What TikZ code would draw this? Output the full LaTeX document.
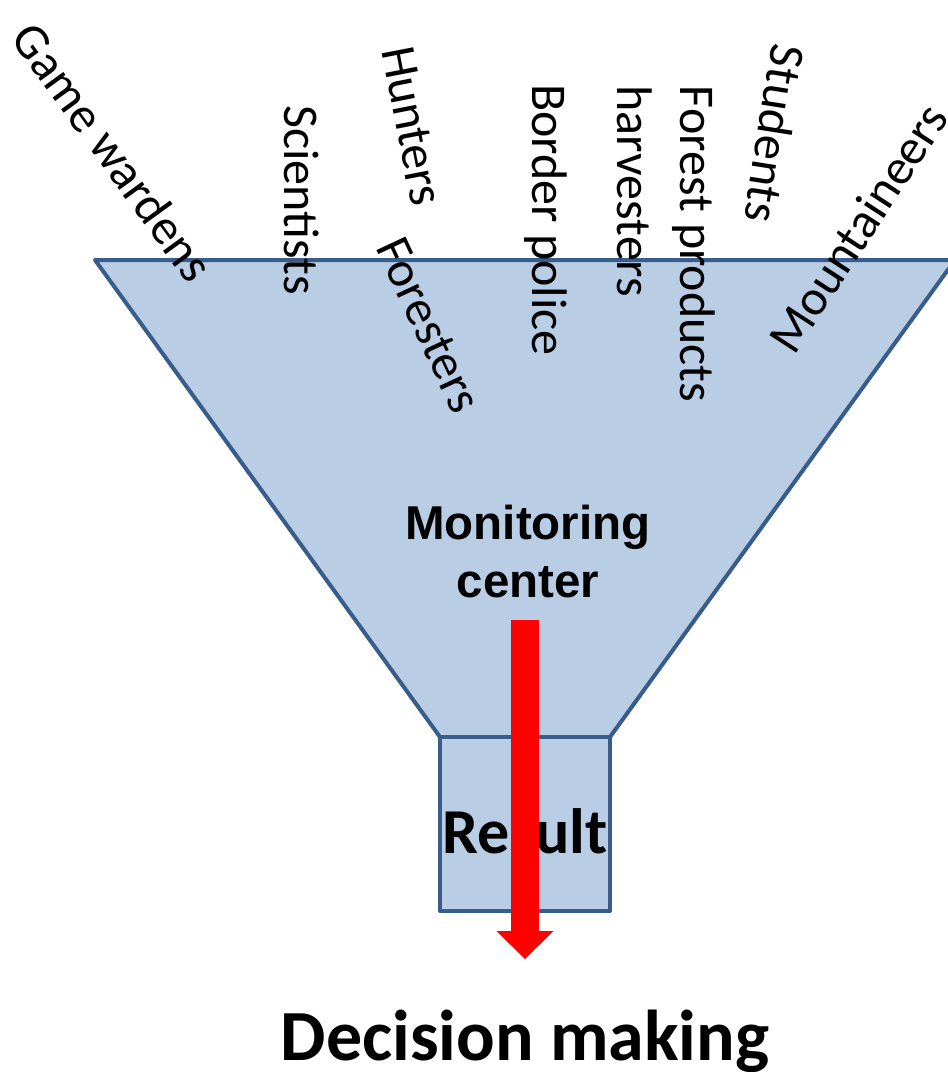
\documentclass[tikz,border=0pt]{standalone}
\usepackage{fontspec}
\setmainfont{Carlito}
\newfontfamily\arialfont{Liberation Sans}
\usetikzlibrary{arrows.meta, positioning}
\definecolor{funnelfill}{HTML}{B9CDE5}
\definecolor{funnelline}{HTML}{385D8A}

\begin{document}
\begin{tikzpicture}[x=1pt, y=-1pt,
        funnel/.style={draw=funnelline, fill=funnelfill, line width=4pt, line join=round},
        actor/.style={inner sep=0pt, align=left, font=\fontsize{50}{63}\selectfont},
        center/.style={inner sep=0pt, align=center, font=\arialfont\bfseries\fontsize{47.5}{58}\selectfont},
        output/.style={inner sep=0pt, font=\bfseries\fontsize{64}{70}\selectfont},
        final/.style={inner sep=0pt, font=\bfseries\fontsize{72}{80}\selectfont},
        flow/.style={draw=red, line width=28pt, -{Triangle[width=57pt, length=28pt, line width=0pt]}}
        ]
        \useasboundingbox (0,0) rectangle (948,1072);
        \clip (0,0) rectangle (948,1072);

        % Funnel
        \filldraw [funnel] (95,260) -- (955,260) -- (610,737) -- (440,737) -- cycle;
        \filldraw [funnel] (440,737) rectangle (610,911);

        % Nodes
        \node (gamewardens) [actor, rotate=-54] at (113,152) {Game wardens};
        \node (scientists) [actor, rotate=-90] at (302,200) {Scientists};
        \node (hunters) [actor, rotate=-79] at (412,126) {Hunters};
        \node (foresters) [actor, rotate=-65] at (429,325) {Foresters};
        \node (borderpolice) [actor, rotate=-90] at (546,220) {Border police};
        \node (harvesters) [actor, rotate=-90] at (666,244) {Forest products\\harvesters};
        \node (students) [actor, rotate=-99] at (775,134) {Students};
        \node (mountaineers) [actor, rotate=57] at (858,228) {Mountaineers};
        \node (monitoring) [center] at (528,552) {Monitoring\\center};
        \node (result) [output, anchor=base] at (525,853) {Result};
        \node (decision) [final, anchor=base] at (525,1060) {Decision making};

        % Arrow
        \coordinate (flowtop) at (525,620);
        \coordinate (flowend) at (525,959);
        \draw [flow] (flowtop) -- (flowend);

    \end{tikzpicture}
\end{document}
